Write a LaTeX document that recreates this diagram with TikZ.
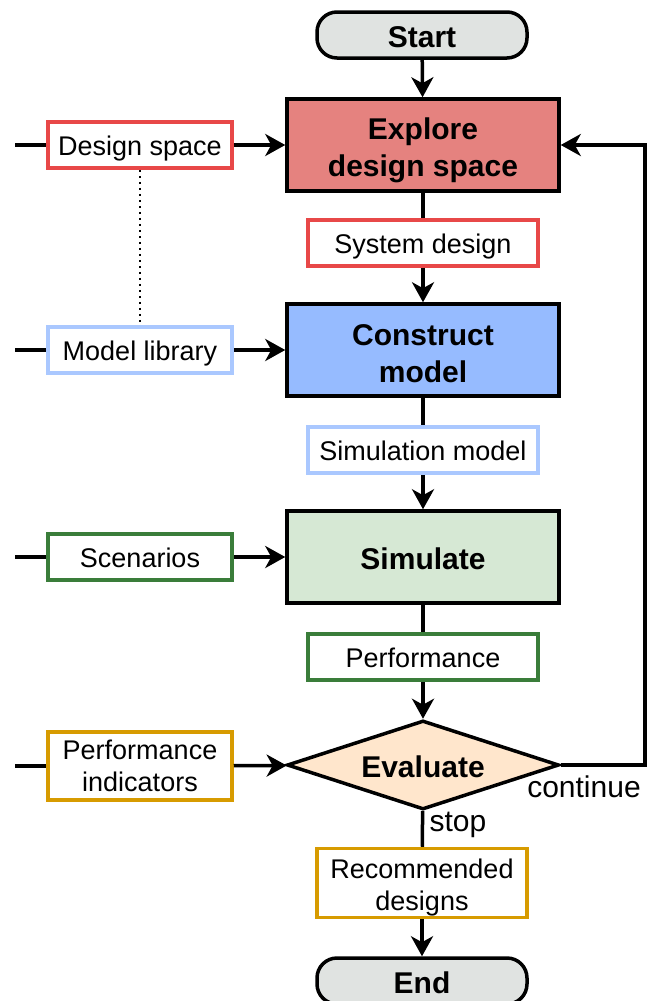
\documentclass[tikz,border=0pt]{standalone}
\usepackage{fontspec}
\setmainfont{Liberation Sans}
\usepackage{tikz}
\usetikzlibrary{arrows.meta,shapes.geometric,positioning}

\definecolor{termfill}{RGB}{224,227,225}
\definecolor{redfill}{RGB}{229,130,127}
\definecolor{redline}{RGB}{232,72,72}
\definecolor{bluefill}{RGB}{150,187,255}
\definecolor{blueline}{RGB}{170,200,255}
\definecolor{greenfill}{RGB}{214,232,212}
\definecolor{greenline}{RGB}{58,125,58}
\definecolor{orangeline}{RGB}{215,155,0}
\definecolor{orangefill}{RGB}{255,230,204}

\begin{document}
\begin{tikzpicture}[x=0.5pt,y=-0.5pt,
        line width=1.75pt,
        normal/.style={font=\fontsize{13.5}{16}\selectfont},
        strong/.style={font=\fontsize{15}{18.5}\selectfont\bfseries},
        oneline/.style={text height=10pt,text depth=0pt},
        onebold/.style={text height=12.3pt,text depth=0pt},
        term/.style={strong,onebold,draw,rounded corners=10pt,fill=termfill,minimum width=105pt,minimum height=23pt,inner sep=0pt},
        process/.style={strong,draw,align=center,minimum width=136pt,minimum height=46pt,inner sep=0pt},
        data/.style={normal,draw,fill=white,align=center,minimum width=115pt,minimum height=23pt,inner sep=0pt},
        input/.style={normal,draw,fill=white,align=center,minimum width=92pt,minimum height=23pt,inner sep=0pt},
        lbl/.style={font=\fontsize{15}{18}\selectfont,inner sep=0pt},
        arr/.style={-{Stealth[length=10pt,width=11pt,inset=3pt]}}]
    \useasboundingbox (0,0) rectangle (648,1001);

    % main column
    \node[term] (start) at (422,35) {Start};
    \node[process,fill=redfill] (explore) at (423,145) {\rule{0pt}{15.8pt}Explore\\design space};
    \node[data,oneline,draw=redline] (sysdesign) at (423,243) {System design};
    \node[process,fill=bluefill] (construct) at (423,350) {\rule{0pt}{13.8pt}Construct\\model};
    \node[data,oneline,draw=blueline] (simmodel) at (423,450) {Simulation model};
    \node[process,onebold,fill=greenfill] (simulate) at (423,557) {Simulate};
    \node[data,oneline,draw=greenline] (perf) at (423,657) {Performance};
    \node[strong,onebold,diamond,draw,fill=orangefill,aspect=3,minimum width=136pt,minimum height=44.5pt,inner sep=0pt] (eval) at (423,765) {Evaluate};
    \node[data,draw=orangeline,minimum width=105pt,minimum height=34.5pt] (recom) at (422,883) {\rule{0pt}{14.7pt}Recommended\\designs};
    \node[term] (end) at (422,981) {End};

    % inputs on the left
    \node[input,oneline,draw=redline] (dspace) at (140,145) {Design space};
    \node[input,oneline,draw=blueline] (modlib) at (140,350) {Model library};
    \node[input,oneline,draw=greenline] (scen) at (140,557) {Scenarios};
    \node[input,draw=orangeline,minimum height=34pt] (perfind) at (140,766) {Performance\\indicators};

    \coordinate (dspacein) at (15,145);
    \coordinate (modlibin) at (15,350);
    \coordinate (scenin) at (15,557);
    \coordinate (perfindin) at (15,766);
    \coordinate (loop) at (645,765);

    % labels
    \node[lbl] (cont) at (584,787) {continue};
    \node[lbl] (stop) at (458,825) {stop};

    % flow
    \draw[arr] (start) -- (explore);
    \draw (explore) -- (sysdesign);
    \draw[arr] (sysdesign) -- (construct);
    \draw (construct) -- (simmodel);
    \draw[arr] (simmodel) -- (simulate);
    \draw (simulate) -- (perf);
    \draw[arr] (perf) -- (eval);
    \draw (eval) -- (recom);
    \draw[arr] (recom) -- (end);
    \draw[arr] (eval.east) -- (loop) |- (explore.east);

    \draw (dspacein) -- (dspace);
    \draw[arr] (dspace) -- (explore);
    \draw (modlibin) -- (modlib);
    \draw[arr] (modlib) -- (construct);
    \draw (scenin) -- (scen);
    \draw[arr] (scen) -- (simulate);
    \draw (perfindin) -- (perfind);
    \draw[arr] (perfind) -- (eval);
    \draw[dotted,line width=1pt] (dspace) -- (modlib);
\end{tikzpicture}
\end{document}
